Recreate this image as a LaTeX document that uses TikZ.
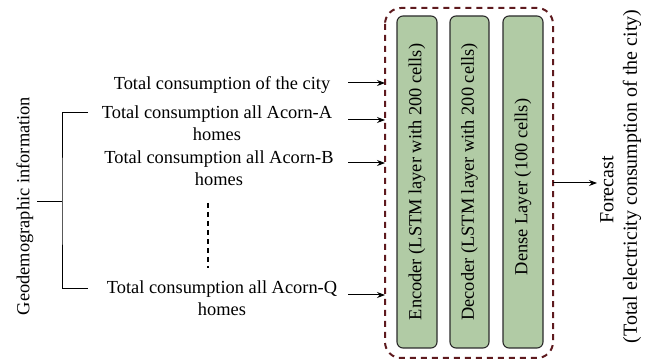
\documentclass[tikz,border=0pt]{standalone}
\usepackage{fontspec}
\setmainfont{Liberation Serif}
\usetikzlibrary{arrows.meta}
\definecolor{boxgreen}{HTML}{B1CBA5}
\definecolor{maroon}{HTML}{5E1A1E}
\definecolor{edgegray}{HTML}{2B2B2B}
\tikzset{
  lbl/.style={font=\fontsize{18.4}{22}\selectfont, align=center, inner sep=0pt},
  rlbl/.style={font=\fontsize{18.4}{22}\selectfont, rotate=90, inner sep=0pt},
  flbl/.style={font=\fontsize{20}{24}\selectfont, rotate=90, inner sep=0pt},
  layerbox/.style={draw=edgegray, fill=boxgreen, line width=1.1pt, rounded corners=6pt},
  outerbox/.style={draw=maroon, line width=2pt, dash pattern=on 6pt off 5pt, rounded corners=16pt},
  arr/.style={-{Stealth[length=8pt,width=6pt]}, line width=1pt},
  ln/.style={line width=1pt},
}
\begin{document}
\begin{tikzpicture}[x=1pt,y=-1pt]
\useasboundingbox (0,0) rectangle (651,363);
% outer dashed container
\draw[outerbox] (385,8) rectangle (553,358);
\coordinate (outW) at (385,182);
\coordinate (outE) at (553,183);
% layer boxes
\draw[layerbox] (397,16) rectangle (437,348);
\draw[layerbox] (450,16) rectangle (489,348);
\draw[layerbox] (503,16) rectangle (543,348);
\node[rlbl] (enc) at (417,182) {Encoder (LSTM layer with 200 cells)};
\node[rlbl] (dec) at (469.5,182) {Decoder (LSTM layer with 200 cells)};
\node[rlbl] (den) at (523,187) {Dense Layer (100 cells)};
% input labels
\node[lbl] (city) at (222,85.5) {Total consumption of the city};
\node[lbl] (acA) at (217,123) {Total consumption all Acorn-A\\homes};
\node[lbl] (acB) at (219,168) {Total consumption all Acorn-B\\homes};
\node[lbl] (acQ) at (222,298) {Total consumption all Acorn-Q\\homes};
% input arrows
\coordinate (s1) at (348,83);
\coordinate (s2) at (348,120);
\coordinate (s3) at (348,163);
\coordinate (s4) at (348,295);
\draw[arr] (s1) -- (s1 -| outW);
\draw[arr] (s2) -- (s2 -| outW);
\draw[arr] (s3) -- (s3 -| outW);
\draw[arr] (s4) -- (s4 -| outW);
% dotted continuation
\coordinate (d1) at (208,203);
\coordinate (d2) at (208,268);
\draw[line width=1.6pt, dash pattern=on 5pt off 4pt] (d1) -- (d2);
% geodemographic bracket
\node[rlbl] (geo) at (25,206) {Geodemographic information};
\coordinate (b0) at (37,202);
\coordinate (b1) at (62,202);
\coordinate (bt) at (88,113);
\coordinate (bb) at (88,289);
\draw[ln] (b0) -- (b1);
\draw[ln] (bt) -| (b1) |- (bb);
% forecast
\coordinate (fc) at (597,183);
\draw[arr] (outE) -- (fc);
\node[flbl] (fcA) at (607,190) {Forecast};
\node[flbl] (fcB) at (632,176.5) {(Total electricity consumption of the city)};
\end{tikzpicture}
\end{document}
